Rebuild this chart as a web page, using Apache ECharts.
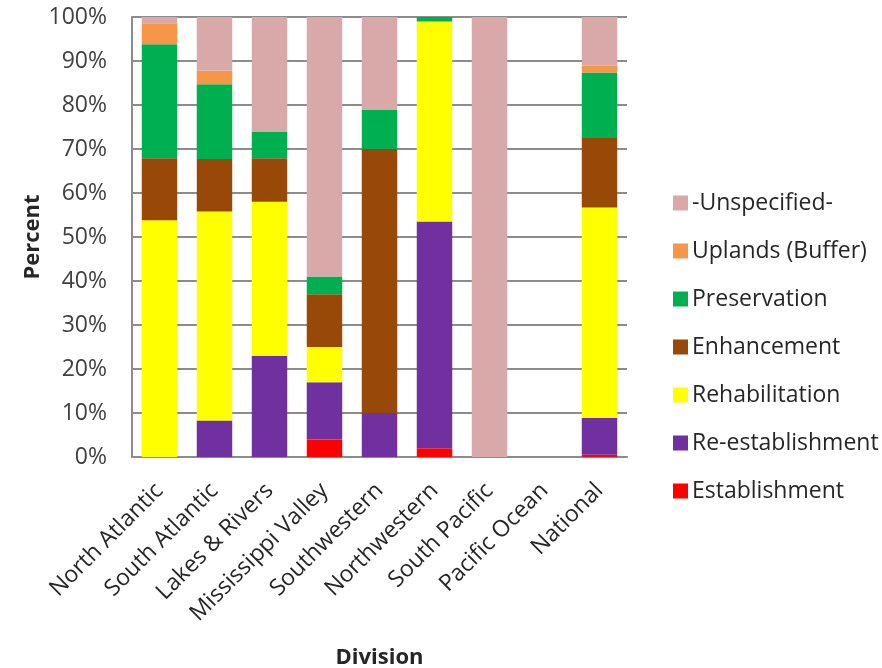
<!DOCTYPE html>
<html>
<head>
<meta charset="utf-8">
<script src="https://cdn.jsdelivr.net/npm/echarts@6/dist/echarts.min.js"></script>
<style>html,body{margin:0;padding:0;background:#fff}#c{width:882px;height:668px}</style>
</head>
<body>
<div id="c"></div>
<script>
const categories = ['North Atlantic','South Atlantic','Lakes & Rivers','Mississippi Valley','Southwestern','Northwestern','South Pacific','Pacific Ocean','National'];
const establishment   = [0,    0,    0,    4.0,  0,    2.0,  0,   0, 0.5];
const reestablishment = [0,    8.3,  23.0, 13.0, 10.0, 51.5, 0,   0, 8.4];
const rehabilitation  = [53.8, 47.5, 35.0, 8.0,  0,    45.5, 0,   0, 47.8];
const enhancement     = [14.1, 11.9, 9.9,  12.0, 60.0, 0,    0,   0, 15.8];
const preservation    = [25.9, 17.0, 6.1,  4.0,  9.0,  1.0,  0,   0, 14.9];
const uplands         = [4.8,  3.1,  0,    0,    0,    0,    0,   0, 1.6];
const unspecified     = [1.4,  12.2, 26.0, 59.0, 21.0, 0,    100, 0, 11.0];
const seriesNames = ['Establishment','Re-establishment','Rehabilitation','Enhancement','Preservation','Uplands (Buffer)','-Unspecified-'];
const seriesData = [establishment, reestablishment, rehabilitation, enhancement, preservation, uplands, unspecified];
const colors = ['#FF0000','#7030A0','#FFFF00','#984807','#00B050','#F79646','#D9A9A9'];

const font = '"Open Sans", "DejaVu Sans", sans-serif';
const chart = echarts.init(document.getElementById('c'), null, {renderer:'canvas'});
chart.setOption({
  animation:false,
  textStyle:{fontFamily:font},
  grid:{left:132,right:255,top:17,bottom:211,containLabel:false,outerBoundsMode:'none'},
  legend:{
    orient:'vertical', left:668, top:186,
    data:seriesNames.slice().reverse(),
    itemWidth:15, itemHeight:15, itemGap:24, icon:'rect',
    textStyle:{fontSize:23,color:'#262626',lineHeight:24,fontFamily:font,padding:[0,0,0,-1]}
  },
  xAxis:{
    type:'category', data:categories,
    name:'Division', nameLocation:'middle', nameGap:190, nameMoveOverlap:false,
    nameTextStyle:{fontSize:22,fontWeight:'bold',color:'#262626',fontFamily:font},
    axisLine:{lineStyle:{color:'#8c8c8c',width:2}},
    axisTick:{show:false},
    axisLabel:{rotate:45,fontSize:23,color:'#262626',margin:30,interval:0,fontFamily:font}
  },
  yAxis:{
    type:'value', min:0, max:100, interval:10,
    name:'Percent', nameLocation:'middle', nameGap:88, nameMoveOverlap:false,
    nameTextStyle:{fontSize:22,fontWeight:'bold',color:'#262626',fontFamily:font},
    axisLine:{show:true,lineStyle:{color:'#8c8c8c',width:2}},
    axisTick:{show:false},
    splitLine:{lineStyle:{color:'#8c8c8c',width:2}},
    axisLabel:{formatter:'{value}%',fontSize:23,color:'#404040',margin:25,fontFamily:font}
  },
  series: seriesNames.map((n,i)=>({
    name:n, type:'bar', stack:'a', barWidth:'64.5%',
    itemStyle:{color:colors[i]},
    data:seriesData[i]
  }))
});
</script>
</body>
</html>
